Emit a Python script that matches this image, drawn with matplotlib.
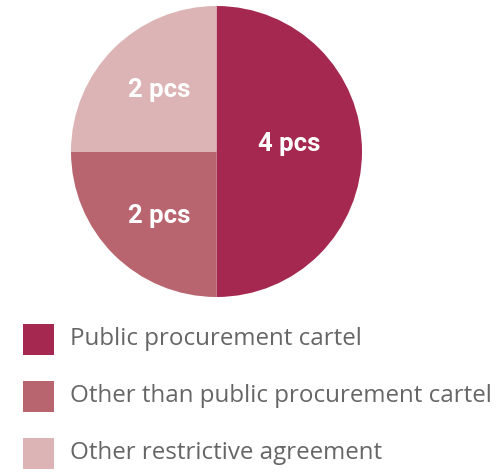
import matplotlib
matplotlib.use("Agg")
import matplotlib.pyplot as plt
from matplotlib.patches import Rectangle
import numpy as np

categories = ["Public procurement cartel",
              "Other than public procurement cartel",
              "Other restrictive agreement"]
values = [4, 2, 2]
value_labels = ["4 pcs", "2 pcs", "2 pcs"]
colors = ["#A4284F", "#B96570", "#DCB4B5"]
text_color = "#666666"

W, H = 499, 472
fig = plt.figure(figsize=(W / 100, H / 100), dpi=100)

# pie axes (pixel geometry)
cx, cy, r = 216.5, 151.5, 145.5
ax = fig.add_axes([(cx - r) / W, (H - cy - r) / H, 2 * r / W, 2 * r / H])
wedges, _ = ax.pie(values, colors=colors, startangle=90, counterclock=False,
                   radius=1.0, wedgeprops=dict(linewidth=0))
ax.set_xlim(-1, 1)
ax.set_ylim(-1, 1)
ax.set_aspect("auto")
ax.axis("off")

# wedge order: right half, bottom-left quarter, top-left quarter
label_r = [0.5, 0.56, 0.56]
label_dy = [0.05, -0.05, 0.025]
for w, lab, lr, ldy in zip(wedges, value_labels, label_r, label_dy):
    ang = np.deg2rad((w.theta1 + w.theta2) / 2)
    ax.text(lr * np.cos(ang), lr * np.sin(ang) + ldy, lab, color="white",
            fontsize=18.5, fontweight="bold", family="Roboto",
            ha="center", va="center")

# legend drawn manually
y0 = 339  # center of first square, px from top
dy = 57
sq = 31
for i, (cat, col) in enumerate(zip(categories, colors)):
    yc = y0 + i * dy
    fig.patches.append(Rectangle((23 / W, (H - yc - sq / 2) / H), sq / W, sq / H,
                                 transform=fig.transFigure, color=col, lw=0))
    fig.text(70 / W, (H - yc) / H, cat, color=text_color, fontsize=17.4,
             family="Open Sans", fontweight="normal", ha="left", va="center")

fig.savefig("out.png", dpi=100, facecolor="white")
